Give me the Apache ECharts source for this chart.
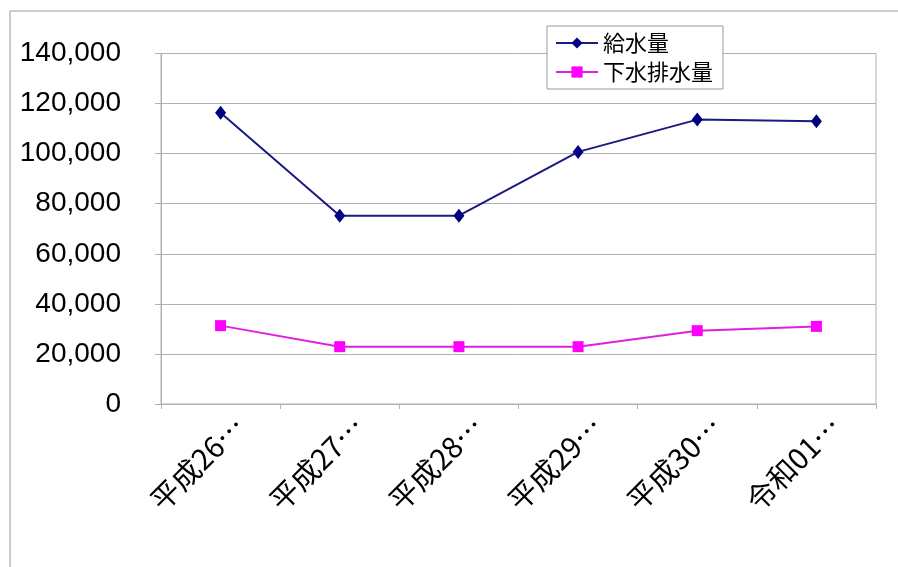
<!DOCTYPE html>
<html>
<head>
<meta charset="utf-8">
<script src="https://cdn.jsdelivr.net/npm/echarts@6/dist/echarts.min.js"></script>
<style>
  html, body { margin: 0; padding: 0; background: #fff; }
  #chart { width: 898px; height: 567px; }
</style>
</head>
<body>
<div id="chart"></div>
<script>
// 年度
const categories = ['平成26年度', '平成27年度', '平成28年度', '平成29年度', '平成30年度', '令和01年度'];
// 給水量
const supplyValues = [116300, 75200, 75200, 100700, 113600, 112900];
// 下水排水量
const sewageValues = [31300, 22900, 22900, 22900, 29300, 31000];
// 縦軸の目盛
const yTicks = [0, 20000, 40000, 60000, 80000, 100000, 120000, 140000];

const FONT = '"Liberation Sans", Arial, "Noto Sans CJK JP", sans-serif';
const JP_FONT = '"Noto Sans CJK JP", "Liberation Sans", sans-serif';

// 年度ラベルは長いので4文字で省略する
const shortLabel = v => v.slice(0, 4) + '…';

const chart = echarts.init(document.getElementById('chart'), null, { renderer: 'canvas' });

chart.setOption({
  animation: false,
  backgroundColor: '#ffffff',
  graphic: [{
    type: 'rect',
    shape: { x: 10, y: 11, width: 1000, height: 1000 },
    style: { fill: 'none', stroke: '#9a9a9a', lineWidth: 1 },
    z: -10
  }],
  grid: [
    // プロット領域
    { left: 161, right: 22, top: 53.5, bottom: 163, show: true, borderColor: '#b0b0b0', borderWidth: 1 },
    // 斜めの年度ラベル用（少し右へずらす）
    { left: 180, right: 3, top: 53.5, bottom: 163, show: false }
  ],
  legend: {
    left: 547, top: 26,
    orient: 'vertical',
    backgroundColor: '#ffffff',
    borderColor: '#9a9a9a',
    borderWidth: 1,
    borderRadius: 0,
    padding: [6, 10, 6, 8],
    itemWidth: 42,
    itemHeight: 14,
    itemGap: 7,
    textStyle: { fontFamily: JP_FONT, fontSize: 22, color: '#000' },
    data: ['給水量', '下水排水量']
  },
  xAxis: [
    {
      type: 'category',
      gridIndex: 0,
      data: categories,
      boundaryGap: true,
      axisLine: { lineStyle: { color: '#b0b0b0', width: 1 } },
      axisTick: { show: true, length: 5, lineStyle: { color: '#b0b0b0' } },
      axisLabel: { show: false }
    },
    {
      type: 'category',
      gridIndex: 1,
      data: categories,
      boundaryGap: true,
      axisLine: { show: false },
      axisTick: { show: false },
      axisLabel: {
        rotate: 45,
        margin: 17,
        fontFamily: JP_FONT,
        fontSize: 29,
        color: '#000',
        formatter: shortLabel
      }
    }
  ],
  yAxis: [
    {
      type: 'value',
      gridIndex: 0,
      min: yTicks[0],
      max: yTicks[yTicks.length - 1],
      interval: yTicks[1] - yTicks[0],
      axisLine: { show: true, lineStyle: { color: '#b0b0b0', width: 1 } },
      axisTick: { show: true, length: 6, lineStyle: { color: '#b0b0b0' } },
      splitLine: { show: true, lineStyle: { color: '#b0b0b0', width: 1 } },
      axisLabel: {
        margin: 40,
        fontFamily: FONT,
        fontSize: 28,
        color: '#000',
        formatter: v => v.toLocaleString('en-US')
      }
    },
    {
      type: 'value',
      gridIndex: 1,
      show: false,
      min: yTicks[0],
      max: yTicks[yTicks.length - 1]
    }
  ],
  series: [
    {
      name: '給水量',
      type: 'line',
      xAxisIndex: 0,
      yAxisIndex: 0,
      data: supplyValues,
      symbol: 'diamond',
      symbolSize: [11, 14],
      itemStyle: { color: '#000080' },
      lineStyle: { color: '#1a1a80', width: 2 },
      z: 3
    },
    {
      name: '下水排水量',
      type: 'line',
      xAxisIndex: 0,
      yAxisIndex: 0,
      data: sewageValues,
      symbol: 'rect',
      symbolSize: 11,
      itemStyle: { color: '#ff00ff' },
      lineStyle: { color: '#e020e0', width: 2 },
      z: 2
    }
  ]
});
</script>
</body>
</html>
